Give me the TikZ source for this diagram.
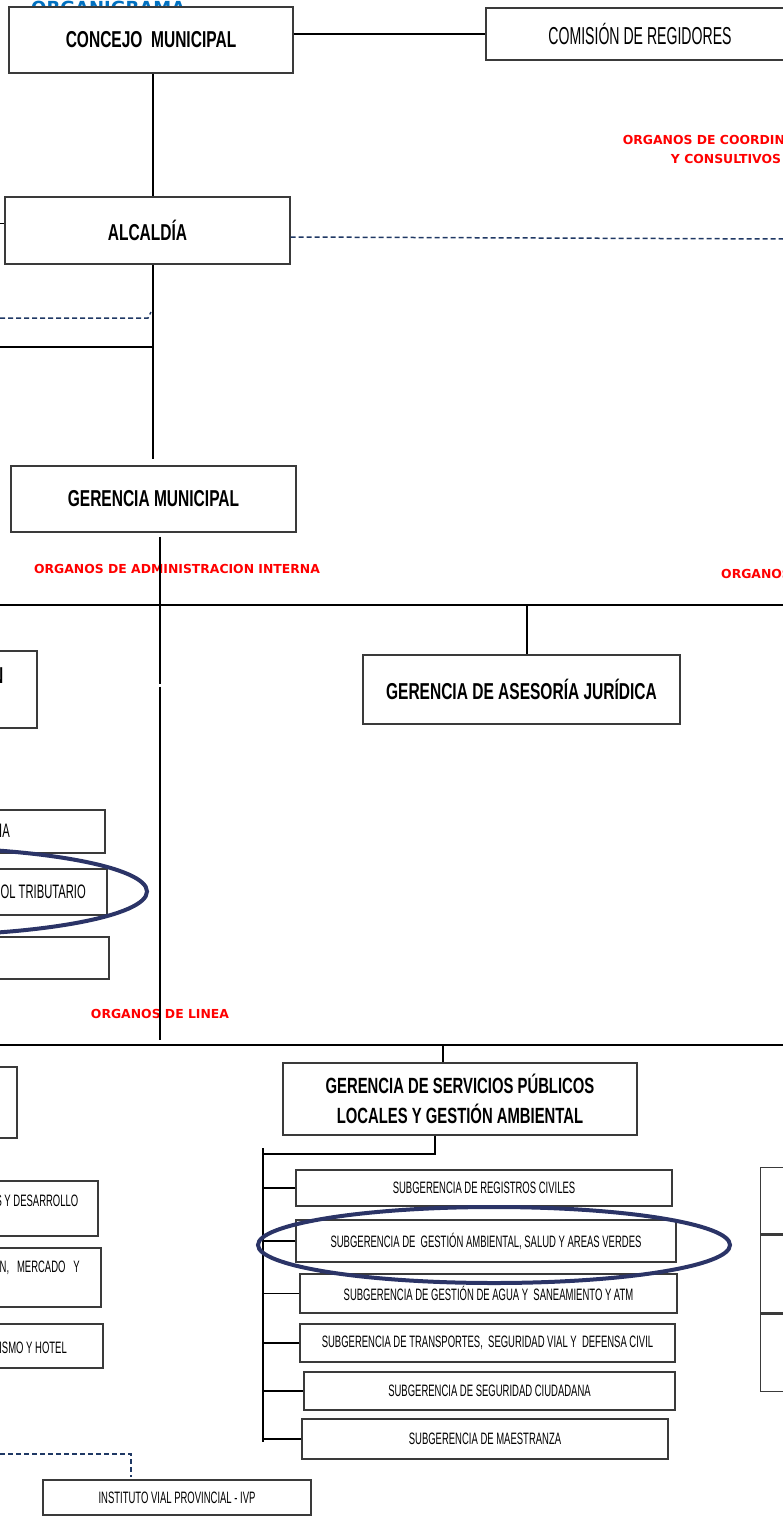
\documentclass[tikz,border=0pt]{standalone}
\usepackage{fontspec}
\usepackage{xcolor}
\usetikzlibrary{positioning}
\newfontfamily\agencyb{Liberation Sans}[FakeStretch=0.675]
\newfontfamily\agencyr{Liberation Sans}[FakeStretch=0.575]
\newfontfamily\tahoma{DejaVu Sans}
\definecolor{navy}{HTML}{2B3467}
\definecolor{dashnavy}{HTML}{1F3864}
\definecolor{orgblue}{HTML}{0070C0}
\definecolor{orgred}{HTML}{FF0000}
\definecolor{boxgray}{HTML}{3A3A3A}

\begin{document}
\begin{tikzpicture}[x=1pt,y=-1pt,
		box/.style={draw=boxgray, line width=1.3pt, fill=white, inner sep=0pt},
		title/.style={font=\agencyb\bfseries\fontsize{23}{27}\selectfont},
		comfont/.style={font=\agencyr\fontsize{24.5}{28}\selectfont},
		sub/.style={font=\agencyr\fontsize{16.5}{19}\selectfont},
		cut/.style={anchor=east, inner sep=0pt},
		organo/.style={text=orgred, font=\tahoma\bfseries\fontsize{12.4}{19}\selectfont, align=center, inner sep=0pt},
		link/.style={line width=1.6pt},
		dashlink/.style={draw=dashnavy, line width=1.5pt, dash pattern=on 5pt off 3pt},
		ring/.style={draw=navy, line width=4pt}]

		\useasboundingbox (0,0) rectangle (783,1517);
		\clip (0,0) rectangle (783,1517);

		\node[anchor=base west, inner sep=0pt, text=orgblue,
			font=\tahoma\bfseries\fontsize{18}{20}\selectfont
		] (organigrama) at (31,15) {ORGANIGRAMA};

		\node[box, title,
			minimum width=284pt,
			minimum height=66pt
		] (concejo) at (151,40) {CONCEJO\ \ MUNICIPAL};

		\node[box, comfont,
			minimum width=308pt,
			minimum height=52pt
		] (comision) at (640,34) {COMISIÓN DE REGIDORES};

		\node[box, title,
			minimum width=285pt,
			minimum height=67pt
		] (alcaldia) at (147.5,230.5) {ALCALDÍA};

		\node[box, title,
			minimum width=285pt,
			minimum height=66pt
		] (gmun) at (153.5,499) {GERENCIA MUNICIPAL};

		\node[box, title,
			minimum width=317pt,
			minimum height=69pt
		] (asesoria) at (521.5,689.5) {GERENCIA DE ASESORÍA JURÍDICA};

		\node[box, title,
			font=\agencyb\bfseries\fontsize{22}{30}\selectfont,
			align=center,
			minimum width=354pt,
			minimum height=72pt
		] (gserv) at (460,1099) {GERENCIA DE SERVICIOS PÚBLICOS\\LOCALES Y GESTIÓN AMBIENTAL};

		% boxes cut by the left edge
		\node[box, minimum width=287pt, minimum height=77pt] (gadm) at (-106.5,689.5) {};
		\node[cut, title] (gadmtext) at (3.5,676) {N};

		\node[box, minimum width=355pt, minimum height=43pt] (tesor) at (-72.5,831.5) {};
		\node[cut, font=\agencyr\fontsize{19.5}{22}\selectfont] (tesortext) at (10,831) {IA};
		\node[box, minimum width=357pt, minimum height=46pt] (tribut) at (-71.5,892) {};
		\node[cut, font=\agencyr\fontsize{19.5}{22}\selectfont] (tributtext) at (86,892) {OL TRIBUTARIO};
		\node[box, minimum width=359pt, minimum height=42pt] (fisc) at (-70.5,958) {};

		\node[box, minimum width=267pt, minimum height=71pt] (gdes) at (-116.5,1102.5) {};
		\node[box, minimum width=348pt, minimum height=55pt] (sdes) at (-76,1208.5) {};
		\node[cut, sub] (sdestext) at (78.5,1201) {S Y DESARROLLO};
		\node[box, minimum width=351pt, minimum height=59pt] (smer) at (-74.5,1277.5) {};
		\node[cut, sub] (smertext) at (80,1268) {N,\ \ \ MERCADO\ \ \ Y};
		\node[box, minimum width=353pt, minimum height=44pt] (stur) at (-73.5,1346) {};
		\node[cut, sub] (sturtext) at (67,1348) {ISMO Y HOTEL};

		% boxes cut by the right edge
		\node[box, anchor=north west, minimum width=240pt, minimum height=66pt] (rb1) at (760,1167) {};
		\node[box, below=0pt of rb1.south west, anchor=north west, minimum width=240pt, minimum height=78pt] (rb2) {};
		\node[box, below=0pt of rb2.south west, anchor=north west, minimum width=240pt, minimum height=77pt] (rb3) {};

		% subgerencias
		\node[box, sub, minimum width=376pt, minimum height=36pt] (sA) at (484,1188) {SUBGERENCIA DE REGISTROS CIVILES};
		\node[box, sub, minimum width=380pt, minimum height=42pt] (sB) at (486,1241) {SUBGERENCIA DE\ \ GESTIÓN AMBIENTAL, SALUD Y AREAS VERDES};
		\node[box, sub, minimum width=377pt, minimum height=39pt] (sC) at (488.5,1293.5) {SUBGERENCIA DE GESTIÓN DE AGUA Y\ \ SANEAMIENTO Y ATM};
		\node[box, sub, minimum width=375pt, minimum height=38pt] (sD) at (487.5,1343) {SUBGERENCIA DE TRANSPORTES,\ \ SEGURIDAD VIAL Y\ \ DEFENSA CIVIL};
		\node[box, sub, minimum width=371pt, minimum height=38pt] (sE) at (489.5,1391) {SUBGERENCIA DE SEGURIDAD CIUDADANA};
		\node[box, sub, minimum width=366pt, minimum height=40pt] (sF) at (485,1439) {SUBGERENCIA DE MAESTRANZA};

		\node[box, sub, minimum width=268pt, minimum height=35pt] (ivp) at (177,1497.5) {INSTITUTO VIAL PROVINCIAL - IVP};

		% organos labels
		\node[organo] (orgcoord) at (726,149.5) {ORGANOS DE COORDINACION\\Y CONSULTIVOS};
		\node[organo] (orgadm) at (177,569) {ORGANOS DE ADMINISTRACION INTERNA};
		\node[organo, anchor=west] (orgright) at (721,574) {ORGANOS};
		\node[organo] (orglinea) at (160,1014) {ORGANOS DE LINEA};

		\node[coordinate] (spine) at (153,0) {};
		\node[coordinate] (spine2) at (160,685) {};
		\node[coordinate] (alcleft) at (0,223) {};
		\node[coordinate] (alcright) at (783,239) {};
		\node[coordinate] (ocileft) at (0,318) {};
		\node[coordinate] (ocaleft) at (0,347) {};
		\node[coordinate] (busadm) at (0,605) {};
		\node[coordinate] (busadmend) at (783,605) {};
		\node[coordinate] (jas) at (527,605) {};
		\node[coordinate] (buslin) at (0,1045) {};
		\node[coordinate] (buslinend) at (783,1045) {};
		\node[coordinate] (jserv) at (443,1045) {};
		\node[coordinate] (stub) at (435,1154) {};
		\node[coordinate] (trunk) at (263,1148) {};
		\node[coordinate] (trunkend) at (263,1442) {};
		\node[coordinate] (ivpleft) at (0,1454) {};
		\node[coordinate] (ivpturn) at (131,1454) {};

		\draw[link] (concejo.east |- comision.west) -- (comision.west)
		(concejo.south -| spine) -- (alcaldia.north -| spine);
		\draw[link, shorten >=6pt] (alcaldia.south -| spine) -- (spine |- gmun.north);
		\draw[line width=1pt] (alcleft) -- (alcleft -| alcaldia.west);
		\draw[dashlink] ([yshift=-6.5pt]alcaldia.east) -- (alcright);
		\draw[dashlink] (ocileft) -- ([xshift=-5pt]ocileft -| spine) -- ++(3,-6);
		\draw[link] (ocaleft) -- ([xshift=-1pt]ocaleft -| spine);

		\draw[link, shorten <=4pt] (gmun.south -| spine2) -- ([yshift=1.5pt]spine2);
		\draw[link, shorten >=5pt] ([yshift=-1.5pt]spine2) -- (spine2 |- buslin);
		\draw[link, line width=2pt] (busadm) -- (busadmend)
		(buslin) -- (buslinend);
		\draw[link] (jas) -- (jas |- asesoria.north)
		(jserv) -- (jserv |- gserv.north)
		(gserv.south -| stub) -- (stub) -- (stub -| trunk);
		\draw[link, line width=2.2pt] (trunk) -- (trunkend);
		\foreach \s in {sA,sB,sC,sD,sE,sF}
			\draw[link] (\s.west) -- (\s.west -| trunk);
		\draw[dashlink, shorten >=2pt] (ivpleft) -- (ivpturn) -- (ivpturn |- ivp.north);

		\draw[ring] (-88,891.5) ellipse [x radius=235pt, y radius=44pt];
		\draw[ring] (494,1245) ellipse [x radius=236pt, y radius=38pt];

	\end{tikzpicture}
\end{document}
